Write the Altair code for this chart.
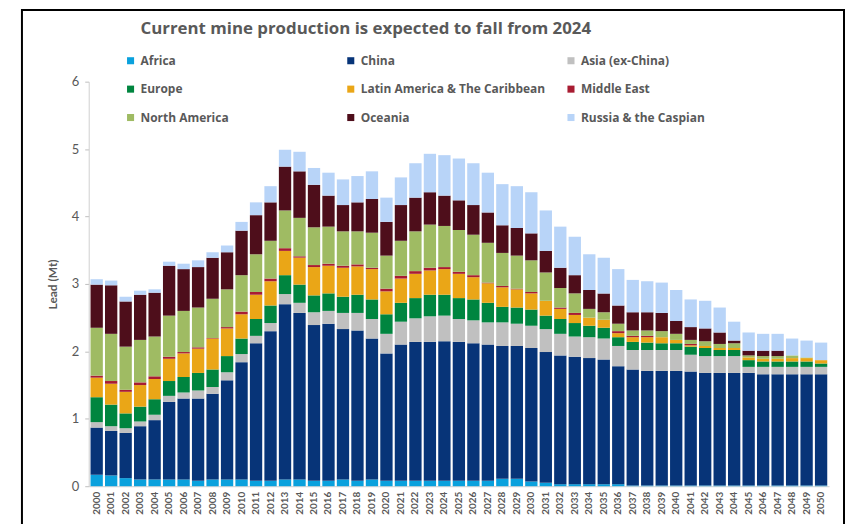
import altair as alt
import pandas as pd

years = [str(y) for y in range(2000, 2051)]

series = ["Africa", "China", "Asia (ex-China)", "Europe", "Latin America & The Caribbean",
          "Middle East", "North America", "Oceania", "Russia & the Caspian"]
colors = ["#0aa1dd", "#073478", "#c0c0c0", "#00853f", "#eaa617",
          "#a81c32", "#9fbb63", "#4e0e1b", "#b8d4f8"]

africa = [0.17, 0.16, 0.12, 0.10, 0.10, 0.10, 0.10, 0.08, 0.10, 0.10,
          0.10, 0.08, 0.08, 0.10, 0.10, 0.08, 0.08, 0.10, 0.08, 0.10,
          0.08, 0.08, 0.08, 0.08, 0.08, 0.08, 0.08, 0.08, 0.11, 0.11,
          0.07, 0.05, 0.03, 0.03, 0.03, 0.03, 0.03, 0.01, 0.01, 0.01,
          0.01, 0.01, 0.01, 0.01, 0.01, 0.01, 0.01, 0.01, 0.01, 0.01, 0.01]
china = [0.70, 0.66, 0.67, 0.79, 0.88, 1.15, 1.20, 1.22, 1.27, 1.47,
         1.74, 2.04, 2.22, 2.60, 2.47, 2.31, 2.33, 2.23, 2.23, 2.09,
         1.89, 2.02, 2.06, 2.06, 2.07, 2.06, 2.04, 2.02, 1.97, 1.97,
         1.98, 1.94, 1.91, 1.89, 1.87, 1.85, 1.75, 1.72, 1.70, 1.70,
         1.70, 1.69, 1.67, 1.67, 1.67, 1.67, 1.65, 1.65, 1.65, 1.65, 1.65]
asia = [0.08, 0.07, 0.07, 0.07, 0.08, 0.09, 0.09, 0.12, 0.10, 0.12,
        0.12, 0.11, 0.12, 0.15, 0.15, 0.19, 0.19, 0.24, 0.26, 0.29,
        0.29, 0.34, 0.35, 0.38, 0.38, 0.34, 0.34, 0.33, 0.35, 0.33,
        0.33, 0.34, 0.32, 0.30, 0.31, 0.31, 0.30, 0.29, 0.31, 0.31,
        0.31, 0.25, 0.25, 0.25, 0.25, 0.09, 0.11, 0.11, 0.11, 0.11, 0.11]
europe = [0.37, 0.32, 0.22, 0.22, 0.23, 0.22, 0.23, 0.26, 0.26, 0.24,
          0.23, 0.25, 0.26, 0.28, 0.27, 0.25, 0.26, 0.24, 0.27, 0.29,
          0.29, 0.28, 0.30, 0.32, 0.31, 0.31, 0.31, 0.29, 0.23, 0.24,
          0.24, 0.20, 0.22, 0.20, 0.17, 0.16, 0.13, 0.12, 0.11, 0.10,
          0.10, 0.12, 0.12, 0.09, 0.09, 0.10, 0.08, 0.08, 0.08, 0.08, 0.05]
latam = [0.29, 0.31, 0.32, 0.32, 0.30, 0.33, 0.35, 0.36, 0.46, 0.41,
         0.36, 0.36, 0.36, 0.36, 0.40, 0.42, 0.41, 0.43, 0.42, 0.45,
         0.34, 0.36, 0.36, 0.36, 0.38, 0.36, 0.33, 0.29, 0.29, 0.27,
         0.24, 0.22, 0.15, 0.12, 0.12, 0.12, 0.06, 0.07, 0.08, 0.09,
         0.05, 0.02, 0.03, 0.03, 0.03, 0.04, 0.04, 0.04, 0.05, 0.05, 0.05]
middle_east = [0.03, 0.04, 0.03, 0.04, 0.04, 0.03, 0.02, 0.02, 0.01, 0.02,
               0.04, 0.04, 0.04, 0.04, 0.02, 0.03, 0.03, 0.03, 0.03, 0.02,
               0.04, 0.04, 0.04, 0.04, 0.03, 0.03, 0.03, 0.01, 0.02, 0.01,
               0.02, 0.00, 0.02, 0.03, 0.00, 0.00, 0.03, 0.02, 0.02, 0.00,
               0.00, 0.02, 0.00, 0.00, 0.00, 0.00, 0.00, 0.00, 0.00, 0.00, 0.00]
north_america = [0.71, 0.70, 0.64, 0.63, 0.59, 0.61, 0.61, 0.59, 0.58, 0.56,
                 0.54, 0.56, 0.56, 0.56, 0.57, 0.56, 0.55, 0.51, 0.49, 0.52,
                 0.49, 0.52, 0.59, 0.64, 0.61, 0.62, 0.60, 0.59, 0.49, 0.49,
                 0.47, 0.42, 0.29, 0.29, 0.13, 0.11, 0.11, 0.08, 0.08, 0.09,
                 0.09, 0.06, 0.07, 0.06, 0.07, 0.03, 0.04, 0.04, 0.04, 0.01, 0.00]
oceania = [0.64, 0.72, 0.67, 0.67, 0.65, 0.74, 0.62, 0.60, 0.61, 0.55,
           0.66, 0.58, 0.57, 0.65, 0.69, 0.63, 0.46, 0.39, 0.43, 0.50,
           0.50, 0.53, 0.50, 0.48, 0.45, 0.44, 0.44, 0.45, 0.41, 0.41,
           0.40, 0.32, 0.30, 0.27, 0.28, 0.28, 0.27, 0.27, 0.27, 0.27,
           0.19, 0.19, 0.19, 0.17, 0.04, 0.07, 0.08, 0.08, 0.00, 0.00, 0.00]
russia = [0.08, 0.07, 0.07, 0.06, 0.05, 0.06, 0.08, 0.10, 0.08, 0.10,
          0.13, 0.19, 0.24, 0.25, 0.29, 0.25, 0.34, 0.38, 0.39, 0.41,
          0.36, 0.41, 0.51, 0.57, 0.60, 0.62, 0.62, 0.59, 0.61, 0.62,
          0.61, 0.60, 0.61, 0.57, 0.53, 0.53, 0.54, 0.48, 0.46, 0.45,
          0.46, 0.41, 0.41, 0.37, 0.28, 0.27, 0.25, 0.25, 0.25, 0.25, 0.26]

values = [africa, china, asia, europe, latam, middle_east, north_america, oceania, russia]

rows = []
for si, (name, vals) in enumerate(zip(series, values)):
    for yr, v in zip(years, vals):
        if v > 0:
            rows.append({"year": yr, "region": name, "value": v, "order": si})
df = pd.DataFrame(rows)

FONT = "Lato"
FONT2 = "Open Sans"
GREY = "#595959"

bars = alt.Chart(df).mark_bar().encode(
    x=alt.X("year:N", sort=years,
            scale=alt.Scale(paddingInner=0.15, paddingOuter=0.125),
            axis=alt.Axis(title=None, labelAngle=270, ticks=False, domainColor="#d0d0d0",
                          labelFont=FONT, labelFontSize=10, labelFontWeight="bold",
                          labelColor=GREY, labelPadding=5, labelBaseline="middle")),
    y=alt.Y("value:Q", stack="zero",
            scale=alt.Scale(domain=[0, 6], nice=False),
            axis=alt.Axis(title="Lead (Mt)", values=[0, 1, 2, 3, 4, 5, 6], grid=False,
                          domainColor="#d0d0d0", tickColor="#bfbfbf", tickSize=4,
                          labelFont=FONT, labelFontSize=13, labelColor=GREY, labelPadding=6,
                          titleFont=FONT, titleFontSize=12, titleFontWeight="bold",
                          titleColor=GREY, titlePadding=12)),
    color=alt.Color("region:N", sort=series,
                    scale=alt.Scale(domain=series, range=colors),
                    legend=alt.Legend(title=None, orient="none", legendX=36, legendY=-27,
                                      direction="horizontal",
                                      columns=3, gridAlign="all", columnPadding=19,
                                      rowPadding=16.5, symbolType="square", symbolSize=50,
                                      symbolStrokeWidth=0, labelFont=FONT2, labelFontSize=12,
                                      labelFontWeight="bold", labelColor=GREY, labelOffset=4,
                                      labelLimit=400)),
    order=alt.Order("order:Q", sort="ascending"),
)

frame = alt.Chart(pd.DataFrame({"f": [0]})).mark_rect(
    filled=False, stroke="black", strokeWidth=2
).encode(x=alt.value(-67), x2=alt.value(758), y=alt.value(-72), y2=alt.value(480))

chart = alt.layer(bars, frame).properties(
    width=743, height=406,
    title=alt.TitleParams("Current mine production is expected to fall from 2024",
                          font=FONT2, fontSize=16.9, fontWeight="bold", color=GREY,
                          anchor="start", dx=120, offset=-29),
    autosize=alt.AutoSizeParams(type="none"),
    padding={"left": 81, "top": 73, "right": 16, "bottom": 37},
).configure_view(stroke=None)

chart.save("out.html", embed_options={"renderer": "svg", "actions": False})
